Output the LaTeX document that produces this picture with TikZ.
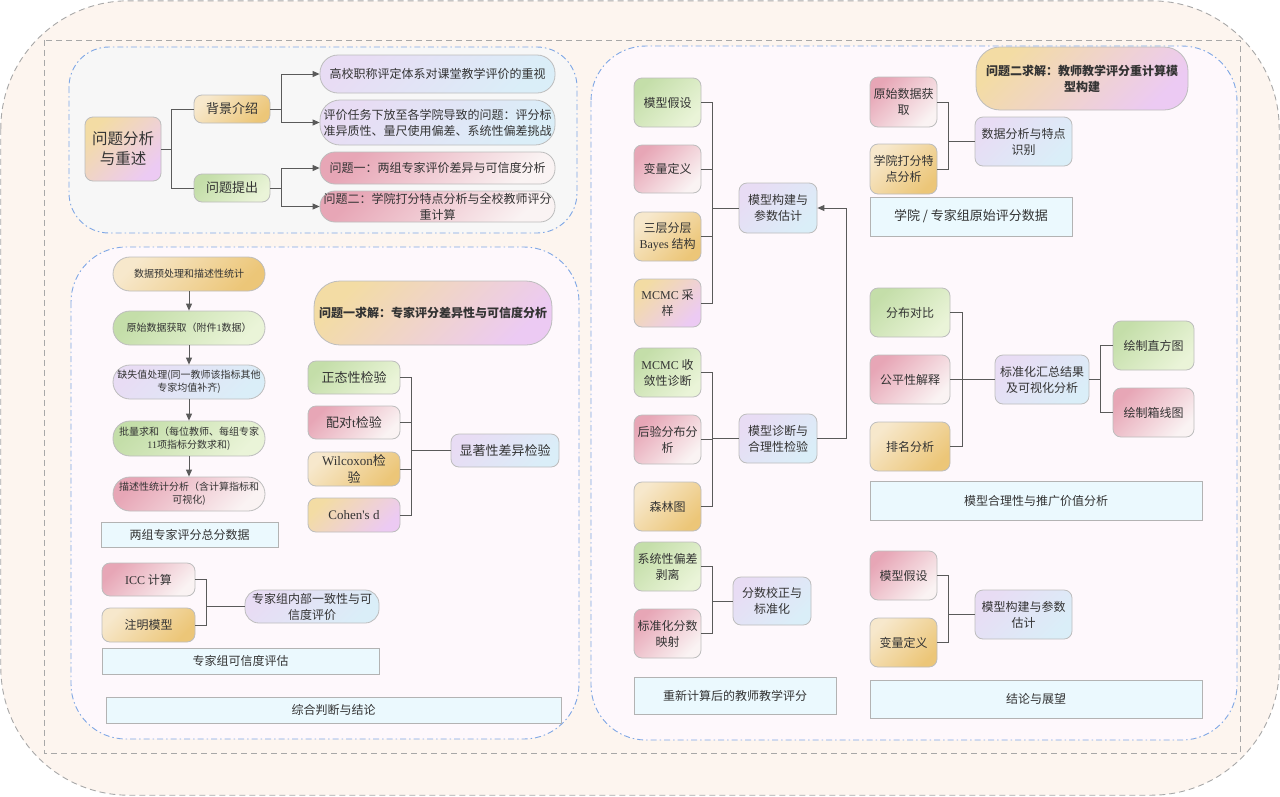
\documentclass[tikz,border=0pt]{standalone}
\usepackage{fontspec}
\setmainfont{Noto Sans CJK SC}
\newfontfamily\lat{Liberation Serif}
\usetikzlibrary{arrows.meta}

\definecolor{outerfill}{HTML}{FDF5EF}
\definecolor{outerline}{HTML}{A8A8A8}
\definecolor{greyfill}{HTML}{F7F7F7}
\definecolor{pinkfill}{HTML}{FEF8FC}
\definecolor{blueline}{HTML}{7FA7E5}
\definecolor{nodeline}{HTML}{BDBDBD}
\definecolor{connc}{HTML}{5A5A5A}
\definecolor{txt}{HTML}{333333}
\definecolor{labfill}{HTML}{EBF9FE}
\definecolor{labline}{HTML}{B3B3B3}
\definecolor{orA}{HTML}{F7E8CC}\definecolor{orB}{HTML}{ECC678}
\definecolor{grA}{HTML}{C4DEA9}\definecolor{grB}{HTML}{EAF4D8}
\definecolor{pkA}{HTML}{E7A6B6}\definecolor{pkB}{HTML}{FAF3F3}
\definecolor{lvA}{HTML}{E8DCF4}\definecolor{lvB}{HTML}{DAEEF8}
\definecolor{olA}{HTML}{F3DCA4}\definecolor{olB}{HTML}{ECCAF3}

\newcommand\fsS{\fontsize{10}{13}\selectfont}
\newcommand\fsM{\fontsize{12}{16}\selectfont}
\newcommand\fsL{\fontsize{13}{17}\selectfont}
\newcommand\fsX{\fontsize{15.5}{20}\selectfont}

% node placed by its box corners: name, style, x1, y1, x2, y2, text
\newcommand\nb[7]{\node[#2,minimum width={(#5-#3)*1pt},minimum height={(#6-#4)*1pt}] (#1) at ({(#3+#5)/2},{(#4+#6)/2}) {#7};}

\tikzset{
  box/.style={draw=nodeline,line width=0.8pt,rounded corners=8pt,align=center,text=txt,inner sep=1pt,font=\fsM},
  gOr/.style={top color=orA,bottom color=orB,shading angle=45},
  gGr/.style={top color=grA,bottom color=grB,shading angle=45},
  gPk/.style={top color=pkA,bottom color=pkB,shading angle=45},
  gLv/.style={top color=lvA,bottom color=lvB,shading angle=45},
  gOL/.style={top color=olA,bottom color=olB,shading angle=45},
  lab/.style={draw=labline,fill=labfill,line width=0.8pt,text=txt,align=center,inner sep=1pt,font=\fsM},
  conn/.style={draw=connc,line width=0.9pt},
  arr/.style={conn,-{Triangle[length=7pt,width=6pt]}},
  panel/.style={draw=blueline,line width=0.9pt,dash pattern=on 6pt off 3pt on 1.5pt off 3pt,rounded corners=#1},
}

\begin{document}
\begin{tikzpicture}[x=1pt,y=-1pt]
\useasboundingbox (0,0) rectangle (1280,796);

% frames
\path[draw=outerline,fill=outerfill,line width=0.9pt,dash pattern=on 6pt off 4pt,rounded corners=128pt] (0.8,0.8) rectangle (1279.2,795.2);
\draw[outerline,line width=0.9pt,dash pattern=on 6pt off 4pt] (44,40) rectangle (1240,753);
\path[panel=40pt,fill=greyfill] (69,47) rectangle (577,233);
\path[panel=55pt,fill=pinkfill] (71,247) rectangle (579,739);
\path[panel=55pt,fill=pinkfill] (591,46) rectangle (1237,740);

% ---------- problem analysis ----------
\nb{root}{box,gOL,font=\fsX}{85}{117}{161}{181}{问题分析\\与重述}
\nb{bg}{box,gOr,font=\fsL}{194}{95}{270}{123}{背景介绍}
\nb{pq}{box,gGr,font=\fsL}{194}{174}{270}{202}{问题提出}
\nb{t1}{box,gLv,rounded corners=18pt}{320}{55}{555}{93}{高校职称评定体系对课堂教学评价的重视}
\nb{t2}{box,gLv,rounded corners=20pt}{320}{100}{555}{145}{评价任务下放至各学院导致的问题：评分标\\准异质性、量尺使用偏差、系统性偏差挑战}
\nb{t3}{box,gPk,rounded corners=15pt}{320}{152}{555}{184}{问题一：两组专家评价差异与可信度分析}
\nb{t4}{box,gPk,rounded corners=15pt}{320}{191}{555}{222}{问题二：学院打分特点分析与全校教师评分\\重计算}

\coordinate (j0) at (171,149);
\coordinate (j1) at (281,109);
\coordinate (j2) at (281,188);
\draw[conn] (root.east) -- (j0) |- (bg.west);
\draw[conn] (j0) |- (pq.west);
\draw[conn] (bg.east) -- (j1);
\draw[arr] (j1) |- (t1.west);
\draw[arr] (j1) |- (t2.west);
\draw[conn] (pq.east) -- (j2);
\draw[arr] (j2) |- (t3.west);
\draw[arr] (j2) |- (t4.west);

% ---------- problem one ----------
\nb{f1}{box,gOr,font=\fsS,rounded corners=17pt}{113}{257}{265}{291}{数据预处理和描述性统计}
\nb{f2}{box,gGr,font=\fsS,rounded corners=17pt}{113}{311}{265}{345}{原始数据获取（附件{\lat 1}数据）}
\nb{f3}{box,gLv,font=\fsS,rounded corners=17pt}{113}{365}{265}{399}{缺失值处理(同一教师该指标其他\\专家均值补齐)}
\nb{f4}{box,gGr,font=\fsS,rounded corners=17pt}{113}{421}{265}{456}{批量求和（每位教师、每组专家\\{\lat 11}项指标分数求和)}
\nb{f5}{box,gPk,font=\fsS,rounded corners=17pt}{113}{477}{265}{511}{描述性统计分析（含计算指标和\\可视化)}
\foreach \a/\b in {f1/f2,f2/f3,f3/f4,f4/f5}
  \draw[arr] (\a.south) -- (\b.north);
\nb{d1}{lab}{101}{522}{278}{547}{两组专家评分总分数据}

\nb{p1}{box,gOL,rounded corners=26pt,font=\fsM\bfseries}{314}{281}{552}{345}{问题一求解：专家评分差异性与可信度分析}
\nb{n1}{box,gGr,font=\fsL}{308}{361}{400}{394}{正态性检验}
\nb{n2}{box,gPk,font=\fsL}{308}{406}{400}{439}{配对{\lat t}检验}
\nb{n3}{box,gOr,font=\fsL}{308}{452}{400}{486}{{\lat Wilcoxon}检\\验}
\nb{n4}{box,gOL,font=\fsL}{308}{498}{400}{532}{{\lat Cohen's d}}
\nb{sig}{box,gLv,font=\fsL}{451}{434}{559}{467}{显著性差异检验}
\coordinate (sb) at (411,450.5);
\foreach \c in {n1,n2,n3,n4}
  \draw[conn] (\c.east) -| (sb);
\draw[conn] (sb) -- (sig.west);

\nb{i1}{box,gPk}{102}{563}{195}{596}{{\lat ICC} 计算}
\nb{i2}{box,gOr}{102}{608}{195}{642}{注明模型}
\nb{icc}{box,gLv,rounded corners=14pt}{245}{590}{379}{623}{专家组内部一致性与可\\信度评价}
\coordinate (ib) at (206,606.5);
\foreach \c in {i1,i2}
  \draw[conn] (\c.east) -| (ib);
\draw[conn] (ib) -- (icc.west);
\nb{d2}{lab}{102}{648}{379}{674}{专家组可信度评估}
\nb{d3}{lab}{106}{697}{561}{723}{综合判断与结论}

% ---------- problem two ----------
\nb{c1}{box,gGr}{634}{78}{701}{127}{模型假设}
\nb{c2}{box,gPk}{634}{145}{701}{193}{变量定义}
\nb{c3}{box,gOr}{634}{212}{701}{261}{三层分层\\{\lat Bayes} 结构}
\nb{c4}{box,gOL}{634}{279}{701}{327}{{\lat MCMC} 采\\样}
\nb{c5}{box,gGr}{634}{348}{701}{397}{{\lat MCMC} 收\\敛性诊断}
\nb{c6}{box,gPk}{634}{415}{701}{464}{后验分布分\\析}
\nb{c7}{box,gOr}{634}{482}{701}{531}{森林图}
\nb{c8}{box,gGr}{634}{542}{701}{591}{系统性偏差\\剥离}
\nb{c9}{box,gPk}{634}{609}{701}{658}{标准化分数\\映射}
\nb{build}{box,gLv}{739}{183}{817}{233}{模型构建与\\参数估计}
\nb{diag}{box,gLv}{739}{414}{817}{463}{模型诊断与\\合理性检验}
\nb{corr}{box,gLv}{733}{577}{811}{625}{分数校正与\\标准化}
\coordinate (mb1) at (712,208);
\coordinate (mb2) at (712,438.5);
\coordinate (mb3) at (712,601);
\foreach \c in {c1,c2,c3,c4}
  \draw[conn] (\c.east) -| (mb1);
\draw[conn] (mb1) -- (build.west);
\foreach \c in {c5,c6,c7}
  \draw[conn] (\c.east) -| (mb2);
\draw[conn] (mb2) -- (diag.west);
\foreach \c in {c8,c9}
  \draw[conn] (\c.east) -| (mb3);
\draw[conn] (mb3) -- (corr.west);
\draw[arr] (diag.east) -- ++(29,0) |- (build.east);
\nb{d4}{lab}{634}{677}{836}{714}{重新计算后的教师教学评分}

\nb{p2}{box,gOL,rounded corners=24pt,font=\fsM\bfseries}{976}{47}{1188}{110}{问题二求解：教师教学评分重计算模\\型构建}
\nb{r1}{box,gPk}{870}{77}{937}{127}{原始数据获\\取}
\nb{r2}{box,gOr}{870}{144}{937}{194}{学院打分特\\点分析}
\nb{ana}{box,gLv}{975}{117}{1072}{166}{数据分析与特点\\识别}
\coordinate (rb1) at (948,141.5);
\foreach \c in {r1,r2}
  \draw[conn] (\c.east) -| (rb1);
\draw[conn] (rb1) -- (ana.west);
\nb{d5}{lab,font=\fsL}{870}{197}{1072}{236}{学院 / 专家组原始评分数据}

\nb{s1}{box,gGr}{870}{288}{950}{337}{分布对比}
\nb{s2}{box,gPk}{870}{355}{950}{404}{公平性解释}
\nb{s3}{box,gOr}{870}{422}{950}{471}{排名分析}
\nb{sum}{box,gLv}{995}{355}{1089}{404}{标准化汇总结果\\及可视化分析}
\nb{v1}{box,gGr}{1113}{321}{1194}{370}{绘制直方图}
\nb{v2}{box,gPk}{1113}{388}{1194}{437}{绘制箱线图}
\coordinate (rb2) at (962,379.5);
\coordinate (rb3) at (1100,379.5);
\foreach \c in {s1,s2,s3}
  \draw[conn] (\c.east) -| (rb2);
\draw[conn] (rb2) -- (sum.west);
\draw[conn] (sum.east) -- (rb3) |- (v1.west);
\draw[conn] (rb3) |- (v2.west);
\nb{d6}{lab}{870}{481}{1202}{520}{模型合理性与推广价值分析}

\nb{e1}{box,gPk}{870}{551}{937}{600}{模型假设}
\nb{e2}{box,gOr}{870}{618}{937}{667}{变量定义}
\nb{est}{box,gLv}{975}{590}{1072}{639}{模型构建与参数\\估计}
\coordinate (rb4) at (948,614.5);
\foreach \c in {e1,e2}
  \draw[conn] (\c.east) -| (rb4);
\draw[conn] (rb4) -- (est.west);
\nb{d7}{lab}{870}{680}{1202}{718}{结论与展望}

\end{tikzpicture}
\end{document}
